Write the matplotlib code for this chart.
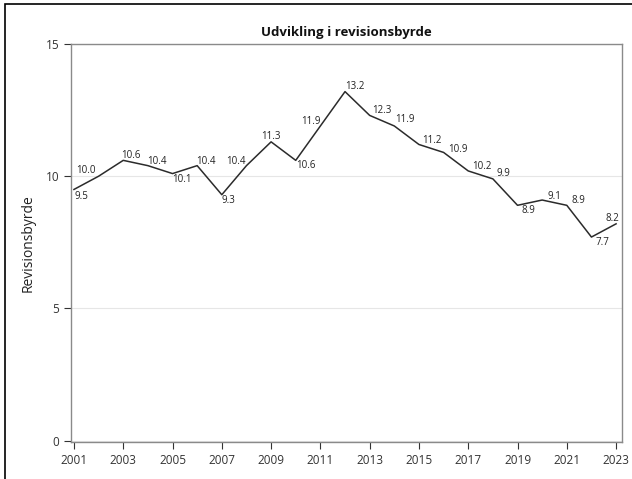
import matplotlib.pyplot as plt
from matplotlib.patches import Rectangle

plt.rcParams['font.family'] = ['Open Sans', 'DejaVu Sans']

years = list(range(2001, 2024))
burden = [9.5, 10.0, 10.6, 10.4, 10.1, 10.4, 9.3, 10.4, 11.3, 10.6, 11.9, 13.2,
          12.3, 11.9, 11.2, 10.9, 10.2, 9.9, 8.9, 9.1, 8.9, 7.7, 8.2]
year_ticks = list(range(2001, 2024, 2))
y_ticks = [0, 5, 10, 15]

# label offsets in pixels (dx, dy), so the numbers don't sit on the line
label_offsets = [(7, -7), (-13, 6), (8, 5), (9, 4), (9, -6), (9, 4), (7, -6),
                 (-11, 4), (0, 5), (10, -5), (-9, 4), (10, 5), (12, 5), (11, 6),
                 (13, 4), (14, 3), (14, 4), (11, 5), (11, -5), (12, 4), (12, 5),
                 (11, -5), (-4, 5)]

fig = plt.figure(figsize=(6.32, 4.79), dpi=100)
ax = fig.add_axes([71 / 632, 1 - 442 / 479, 551 / 632, 398 / 479])

ax.plot(years, burden, color='#2b2b2b', linewidth=1.1, zorder=3)
for x, y, (dx, dy) in zip(years, burden, label_offsets):
    ax.annotate(f'{y:.1f}', (x, y), xytext=(dx, dy), textcoords='offset pixels',
                ha='center', va='center', fontsize=7, color='#222222')

ax.set_xlim(2000.88, 2023.24)
ax.set_ylim(-0.05, 15)
ax.set_xticks(year_ticks)
ax.set_yticks(y_ticks)
ax.tick_params(labelsize=8.5, colors='#333333', length=5, width=0.8,
               labelcolor='#333333')
ax.yaxis.grid(True, color='#e6e6e6', linewidth=0.8)
ax.set_axisbelow(True)
for s in ax.spines.values():
    s.set_color('#8a8a8a')
    s.set_linewidth(1.0)

ax.set_ylabel('Revisionsbyrde', fontsize=10, color='#222222', labelpad=7)
ax.set_title('Udvikling i revisionsbyrde', fontsize=9.5, fontweight='bold',
             color='#111111', pad=6)

# outer frame
fig.patches.append(Rectangle((5 / 632, -0.05), 2, 1 - 4 / 479 + 0.05,
                             transform=fig.transFigure, fill=False,
                             edgecolor='black', linewidth=1.2))

fig.savefig('out.png', dpi=100)
